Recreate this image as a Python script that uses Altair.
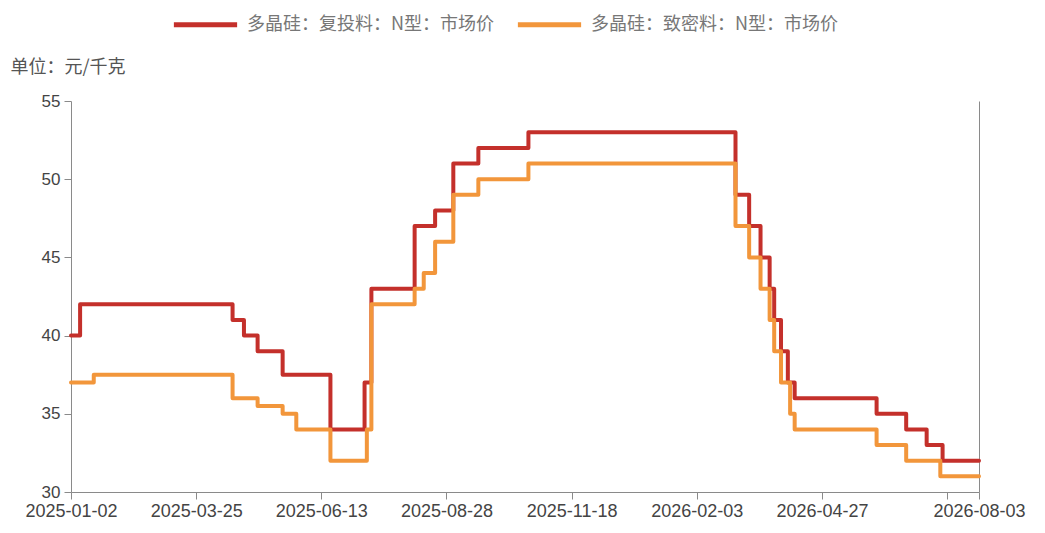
import altair as alt
import pandas as pd

# ---- data ----
series_names = ["多晶硅：复投料：N型：市场价", "多晶硅：致密料：N型：市场价"]
colors = ["#c4302b", "#f2963b"]

# change points: trading-day index where a new price level starts
red_idx = [0, 4, 71, 76, 82, 93, 114, 129, 132, 151, 160, 168, 179, 201,
           292, 298, 303, 307, 309, 312, 315, 318, 354, 367, 376, 383, 399]
red_val = [40, 42, 41, 40, 39, 37.5, 34, 37, 43, 47, 48, 51, 52, 53,
           49, 47, 45, 43, 41, 39, 37, 36, 35, 34, 33, 32, 32]

orange_idx = [0, 10, 71, 82, 93, 99, 114, 130, 132, 151, 155, 160, 168, 179, 201,
              292, 298, 303, 307, 309, 312, 316, 318, 354, 367, 382, 399]
orange_val = [37, 37.5, 36, 35.5, 35, 34, 32, 34, 42, 43, 44, 46, 49, 50, 51,
              47, 45, 43, 41, 39, 37, 35, 34, 33, 32, 31, 31]

tick_idx = [0, 55, 110, 165, 220, 275, 330, 385, 399]
tick_labels = ["2025-01-02", "2025-03-25", "2025-06-13", "2025-08-28", "2025-11-18",
               "2026-02-03", "2026-04-27", "", "2026-08-03"]
y_ticks = [30, 35, 40, 45, 50, 55]
unit_text = "单位：元/千克"

df = pd.concat([
    pd.DataFrame({"i": red_idx, "v": red_val, "s": series_names[0]}),
    pd.DataFrame({"i": orange_idx, "v": orange_val, "s": series_names[1]}),
], ignore_index=True)

label_expr = " : ".join(
    f"datum.value == {i} ? '{t}'" for i, t in zip(tick_idx, tick_labels)
) + " : ''"

axis_color = "#8a8a8a"

x_enc = alt.X("i:Q",
              scale=alt.Scale(domain=[min(tick_idx), max(tick_idx)], nice=False, zero=False),
              axis=alt.Axis(title=None, values=tick_idx, labelExpr=label_expr,
                            labelFlush=False, labelOverlap=False, grid=False,
                            tickSize=7, labelPadding=3, domainColor=axis_color,
                            tickColor=axis_color, labelColor="#444",
                            labelFont="Liberation Sans", labelFontSize=18))

y_scale = alt.Scale(domain=[min(y_ticks), max(y_ticks)], nice=False, zero=False)

lines = alt.Chart(df).mark_line(interpolate="step-after", strokeWidth=4,
                                strokeJoin="round", strokeCap="round").encode(
    x=x_enc,
    y=alt.Y("v:Q", scale=y_scale,
            axis=alt.Axis(title=unit_text, titleAngle=0, titleX=-61, titleY=-34,
                          titleAlign="left", titleBaseline="middle",
                          titleFont="Noto Sans CJK SC", titleFontSize=18,
                          titleFontWeight="normal", titleColor="#555",
                          values=y_ticks, grid=False, tickSize=7,
                          labelPadding=4, domainColor=axis_color, tickColor=axis_color,
                          labelColor="#444", labelFont="Liberation Sans",
                          labelFontSize=17)),
    color=alt.Color("s:N", sort=series_names,
                    scale=alt.Scale(domain=series_names, range=colors),
                    legend=alt.Legend(title=None, orient="none", direction="horizontal",
                                      legendX=104, legendY=-87,
                                      symbolType="M-4,0H4", symbolSize=250,
                                      symbolOffset=20, symbolStrokeWidth=5,
                                      labelOffset=31, columnPadding=12,
                                      labelFont="Noto Sans CJK SC",
                                      labelFontSize=18, labelColor="#777",
                                      labelLimit=400)),
)

right_axis = alt.Chart(df).mark_line(strokeOpacity=0).encode(
    x=alt.X("i:Q", scale=alt.Scale(domain=[min(tick_idx), max(tick_idx)], nice=False, zero=False)),
    y=alt.Y("v:Q", scale=y_scale,
            axis=alt.Axis(title=None, orient="right", labels=False, ticks=False,
                          grid=False, domainColor=axis_color)),
    detail="s:N",
)

chart = alt.layer(lines, right_axis).resolve_axis(y="independent").properties(
    width=908, height=391,
    autosize=alt.AutoSizeParams(type="none"),
    padding={"left": 63, "top": 93, "right": 58, "bottom": 33},
).configure_view(stroke=None)

chart.save("out.html", embed_options={"renderer": "svg", "actions": False})
